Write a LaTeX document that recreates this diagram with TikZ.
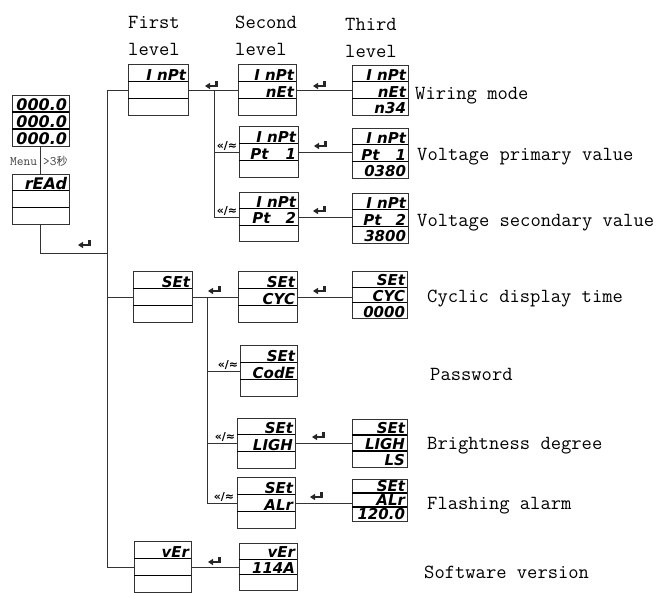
\documentclass[tikz,border=0pt]{standalone}
\usepackage{fontspec}
\usetikzlibrary{calc}
\newfontfamily\segfont{DejaVu Sans}
\newfontfamily\cjkfont{Noto Sans CJK SC}
\newfontfamily\symfont{DejaVu Sans}
\def\segsz{15}
\tikzset{
  line/.style={draw=black!80, line width=0.9pt},
  boxline/.style={draw=black!80, line width=0.9pt},
  rowline/.style={draw=black, line width=1.3pt},
  segtext/.style={anchor=base east, inner sep=0pt, text=black,
    font=\segfont\bfseries\itshape\fontsize{\segsz}{\segsz}\selectfont},
  lbl/.style={anchor=base west, inner sep=0pt, text=black,
    font=\ttfamily\fontsize{20}{20}\selectfont},
  small/.style={anchor=base west, inner sep=0pt, text=black!75,
    font=\ttfamily\fontsize{13}{13}\selectfont},
  sym/.style={inner sep=0pt, text=black,
    font=\symfont\bfseries\fontsize{11}{11}\selectfont},
  retarr/.pic={
    \fill[black!85] (0,0) -- (5,-3.2) -- (5,3.2) -- cycle;
    \fill[black!85] (4.5,-1.4) rectangle (12.5,1.4);
    \fill[black!85] (10,-5) rectangle (12.5,1.4);
  }
}
% #1 name, #2 cx, #3 cy, #4 w, #5 h, #6 #7 #8 row texts
\newcommand{\disp}[8]{%
  \node[minimum width=#4pt, minimum height=#5pt, inner sep=0pt, outer sep=0pt] (#1) at (#2,#3) {};
  \pgfmathsetmacro{\rh}{#5/3}
  \draw[boxline] (#1.north west) rectangle (#1.south east);
  \draw[rowline] ($(#1.north west)+(0,\rh)$) -- ++(#4,0);
  \draw[rowline] ($(#1.north west)+(0,2*\rh)$) -- ++(#4,0);
  \node[segtext] at ($(#1.north east)+(-1.8,\rh-1.2)$) {#6};
  \node[segtext] at ($(#1.north east)+(-1.8,2*\rh-1.2)$) {#7};
  \node[segtext] at ($(#1.north east)+(-1.8,3*\rh-1.2)$) {#8};
}
\begin{document}
\begin{tikzpicture}[x=1pt,y=-1pt]
\useasboundingbox (0,0) rectangle (666,592);
\clip (0,0) rectangle (666,592);

% headers
\node[lbl] (h1a) at (128,28) {First};
\node[lbl] (h1b) at (128,55) {level};
\node[lbl] (h2a) at (235,28) {Second};
\node[lbl] (h2b) at (235,55) {level};
\node[lbl] (h3a) at (345,30) {Third};
\node[lbl] (h3b) at (345,57) {level};

% device
{\def\segsz{16}
\disp{dev}{40.5}{120.5}{57}{51}{000.0}{000.0}{000.0}
\disp{rd}{40.5}{199}{57}{50}{rEAd}{}{}
}
\node[small] (menu) at (10,165) {Menu};
\node[small] (gt) at (43,165) {>3{\cjkfont\fontsize{11}{11}\selectfont 秒}};

% first level
\disp{F1}{158}{90}{60}{51}{I nPt}{}{}
\disp{F2}{162.5}{297}{59}{51}{SEt}{}{}
\disp{F3}{162.5}{567}{57}{51}{vEr}{}{}

% second level
\disp{S1}{267}{90}{58}{51}{I nPt}{nEt}{}
\disp{S2}{268.5}{152}{59}{51}{I nPt}{Pt\hspace{17pt}1}{}
\disp{S3}{268.5}{217}{59}{49}{I nPt}{Pt\hspace{15pt}2}{}
\disp{S4}{267.5}{297}{59}{51}{SEt}{CYC}{}
\disp{S5}{268.5}{371}{57}{51}{SEt}{CodE}{}
\disp{S6}{266}{443}{58}{50}{SEt}{LIGH}{}
\disp{S7}{266}{503}{58}{51}{SEt}{ALr}{}
\disp{S8}{268}{567}{58}{47}{vEr}{114A}{}

% third level
\disp{T1}{380}{90}{56}{50}{I nPt}{nEt}{n34}
\disp{T2}{380}{153}{56}{50}{I nPt}{Pt\hspace{16pt}1}{0380}
\disp{T3}{380}{218}{56}{50}{I nPt}{Pt\hspace{14pt}2}{3800}
\disp{T4}{379.5}{295}{55}{47}{SEt}{CYC}{0000}
\disp{T6}{379.5}{443}{55}{48}{SEt}{LIGH}{LS}
\disp{T7}{379.5}{500}{55}{42}{SEt}{ALr}{120.0}

% trunk
\coordinate (tTop) at (107,90);
\coordinate (tBot) at (107,567);
\coordinate (jn) at (107,253);
\draw[line] (tTop) -- (tBot);
\draw[line] (dev.south) -- (rd.north);
\draw[line] (rd.south) |- (jn);
\draw[line] (tTop) -- (F1.west);
\draw[line] (F2.west -| tTop) -- (F2.west);
\draw[line] (F3.west -| tTop) -- (F3.west);

% InPt branch
\coordinate (v1) at (214,90);
\coordinate (v1b) at (214,217);
\draw[line] (F1.east) -- (S1.west);
\draw[line] (v1) -- (v1b);
\draw[line] (S2.west -| v1) -- (S2.west);
\draw[line] (v1b) -- (S3.west);
\draw[line] (S1.east) -- (S1.east -| T1.west);
\draw[line] (S2.east) -- (S2.east -| T2.west);
\draw[line] (S3.east) -- (S3.east -| T3.west);

% SEt branch
\coordinate (v2) at (207,297);
\coordinate (v2b) at (207,503);
\draw[line] (F2.east) -- (S4.west);
\draw[line] (v2) -- (v2b);
\draw[line] (S5.west -| v2) -- (S5.west);
\draw[line] (S6.west -| v2) -- (S6.west);
\draw[line] (v2b) -- (S7.west);
\draw[line] (S4.east) -- (S4.east -| T4.west);
\draw[line] (S6.east) -- (S6.east -| T6.west);
\draw[line] (S7.east) -- (S7.east -| T7.west);

% vEr
\draw[line] (F3.east) -- (S8.west);

% return arrows
\pic at (78,245) {retarr};
\pic at (205,86) {retarr};
\pic at (313,86) {retarr};
\pic at (314,146) {retarr};
\pic at (313,211) {retarr};
\pic at (208,291) {retarr};
\pic at (313,291) {retarr};
\pic at (312,437) {retarr};
\pic at (310,497) {retarr};
\pic at (208,562) {retarr};

% scroll symbols
\node[sym] (s1) at (227,146) {«/≈};
\node[sym] (s2) at (227,211) {«/≈};
\node[sym] (s3) at (228,365) {«/≈};
\node[sym] (s4) at (225,437) {«/≈};
\node[sym] (s5) at (224,497) {«/≈};

% labels
\node[lbl] (l1) at (415,99) {Wiring mode};
\node[lbl] (l2) at (417,160) {Voltage primary value};
\node[lbl] (l3) at (417,226) {Voltage secondary value};
\node[lbl] (l4) at (427,302) {Cyclic display time};
\node[lbl] (l5) at (430,380) {Password};
\node[lbl] (l6) at (427,449) {Brightness degree};
\node[lbl] (l7) at (427,509) {Flashing alarm};
\node[lbl] (l8) at (424,578) {Software version};
\end{tikzpicture}
\end{document}
